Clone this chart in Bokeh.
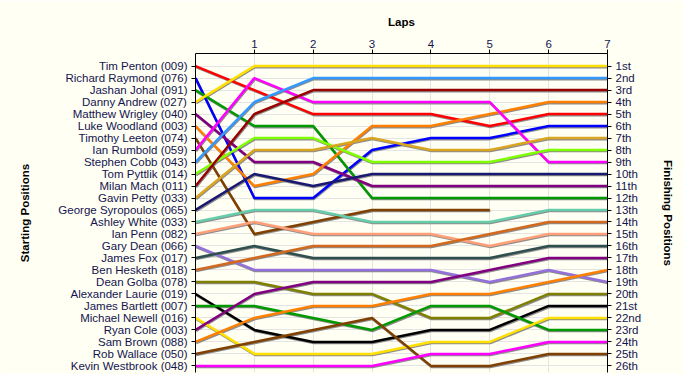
from bokeh.plotting import figure
from bokeh.models import Range1d, FixedTicker, LinearAxis, ColumnDataSource
from bokeh.transform import dodge
from bokeh.embed import file_html
from bokeh.resources import INLINE

laps = [0, 1, 2, 3, 4, 5, 6, 7]

names = [
    "Tim Penton (009)", "Richard Raymond (076)", "Jashan Johal (091)", "Danny Andrew (027)",
    "Matthew Wrigley (040)", "Luke Woodland (003)", "Timothy Leeton (074)", "Ian Rumbold (059)",
    "Stephen Cobb (043)", "Tom Pyttlik (014)", "Milan Mach (011)", "Gavin Petty (033)",
    "George Syropoulos (065)", "Ashley White (033)", "Ian Penn (082)", "Gary Dean (066)",
    "James Fox (017)", "Ben Hesketh (018)", "Dean Golba (078)", "Alexander Laurie (019)",
    "James Bartlett (007)", "Michael Newell (016)", "Ryan Cole (003)", "Sam Brown (088)",
    "Rob Wallace (050)", "Kevin Westbrook (048)",
]

colors = [
    "#FF0000", "#0000FF", "#009900", "#FFE000", "#800080", "#FF8000", "#804000", "#FF00FF",
    "#3399FF", "#80FF00", "#990000", "#DAA520", "#191970", "#66CDAA", "#FFA07A", "#9370DB",
    "#2F4F4F", "#D2691E", "#808000", "#000000", "#009900", "#FFE000", "#800080", "#FF8000",
    "#804000", "#FF00FF",
]

positions = [
    [1, 3, 5, 5, 5, 6, 5, 5],
    [2, 12, 12, 8, 7, 7, 6, 6],
    [3, 6, 6, 12, 12, 12, 12, 12],
    [4, 1, 1, 1, 1, 1, 1, 1],
    [5, 9, 9, 11, 11, 11, 11, 11],
    [6, 11, 10, 6, 6, 5, 4, 4],
    [7, 15, 14, 13, 13, 13],
    [8, 2, 4, 4, 4, 4, 9, 9],
    [9, 4, 2, 2, 2, 2, 2, 2],
    [10, 7, 7, 9, 9, 9, 8, 8],
    [11, 5, 3, 3, 3, 3, 3, 3],
    [12, 8, 8, 7, 8, 8, 7, 7],
    [13, 10, 11, 10, 10, 10, 10, 10],
    [14, 13, 13, 14, 14, 14, 13, 13],
    [15, 14, 15, 15, 15, 16, 15, 15],
    [16, 18, 18, 18, 18, 19, 18, 19],
    [17, 16, 17, 17, 17, 17, 16, 16],
    [18, 17, 16, 16, 16, 15, 14, 14],
    [19, 19, 20, 20, 22, 22, 20, 20],
    [20, 23, 24, 24, 23, 23, 21, 21],
    [21, 21, 22, 23, 21, 21, 23, 23],
    [22, 25, 25, 25, 24, 24, 22, 22],
    [23, 20, 19, 19, 19, 18, 17, 17],
    [24, 22, 21, 21, 20, 20, 19, 18],
    [25, 24, 23, 22, 26, 26, 25, 25],
    [26, 26, 26, 26, 25, 25, 24, 24],
]

finish_labels = [
    "1st", "2nd", "3rd", "4th", "5th", "6th", "7th", "8th", "9th", "10th",
    "11th", "12th", "13th", "14th", "15th", "16th", "17th", "18th", "19th", "20th",
    "21st", "22nd", "23rd", "24th", "25th", "26th",
]

lap_labels = ["1", "2", "3", "4", "5", "6", "7"]

BG = "#FFFFF4"
TXT = "#141450"
FONT = "Liberation Sans"

p = figure(width=684, height=374, output_backend="svg", toolbar_location=None,
           x_range=Range1d(0, 7), y_range=Range1d(26.55, -0.05),
           x_axis_location="above", min_border_left=195, min_border_right=77,
           min_border_top=53, min_border_bottom=2)
p.background_fill_color = BG
p.border_fill_color = BG
p.outline_line_color = None

ranks = list(range(1, len(names) + 1))

# grids
p.xgrid.ticker = FixedTicker(ticks=laps[1:])
p.ygrid.ticker = FixedTicker(ticks=ranks)
p.xgrid.grid_line_color = "#E4E4E4"
p.ygrid.grid_line_color = "#E4E4E4"

def style_axis(ax):
    ax.major_label_text_font = FONT
    ax.major_label_text_font_size = "11.5px"
    ax.major_label_text_color = TXT
    ax.axis_label_text_font = FONT
    ax.axis_label_text_font_size = "11.5px"
    ax.axis_label_text_font_style = "bold"
    ax.axis_label_text_color = "#000000"
    ax.major_tick_in = 0
    ax.major_tick_out = 4
    ax.minor_tick_line_color = None
    ax.axis_line_color = "#000000"
    ax.major_tick_line_color = "#000000"

# top axis
xa = p.xaxis[0]
xa.ticker = FixedTicker(ticks=laps[1:])
xa.major_label_overrides = {i + 1: s for i, s in enumerate(lap_labels)}
xa.axis_label = "Laps"
xa.axis_label_standoff = 9
xa.major_label_standoff = 2
style_axis(xa)

# left axis
ya = p.yaxis[0]
ya.ticker = FixedTicker(ticks=ranks)
ya.major_label_overrides = {r: n for r, n in zip(ranks, names)}
ya.axis_label = "Starting Positions"
ya.axis_label_standoff = 24
ya.major_label_standoff = 4
style_axis(ya)

# right axis
ra = LinearAxis(ticker=FixedTicker(ticks=ranks),
                major_label_overrides={r: s for r, s in zip(ranks, finish_labels)})
ra.axis_label = "Finishing Positions"
ra.axis_label_standoff = 18
ra.major_label_standoff = 4
style_axis(ra)
p.add_layout(ra, "right")

# lines with shadows
for pos, col in zip(positions, colors):
    src = ColumnDataSource(dict(x=laps[:len(pos)], y=pos))
    p.line(x=dodge("x", 0.01, range=p.x_range), y=dodge("y", 0.09, range=p.y_range),
           source=src, line_color="#8C8C8C", line_width=2.5)
for pos, col in zip(positions, colors):
    src = ColumnDataSource(dict(x=laps[:len(pos)], y=pos))
    p.line(x="x", y="y", source=src, line_color=col, line_width=2.5)

open("out.html", "w").write(file_html(p, INLINE))
